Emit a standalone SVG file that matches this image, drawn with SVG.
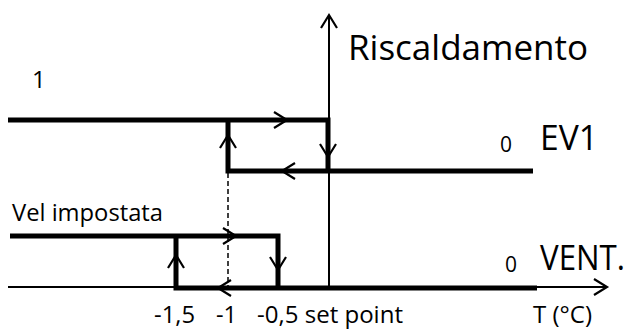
<svg xmlns="http://www.w3.org/2000/svg" width="634" height="331" viewBox="0 0 634 331">
<style>
.thin{stroke:#000;stroke-width:2;fill:none}
.thick{stroke:#000;stroke-width:5;fill:none;stroke-linejoin:miter}
.chev{stroke:#000;stroke-width:2.2;fill:none}
.dash{stroke:#000;stroke-width:1.5;fill:none;stroke-dasharray:5 3}
text{font-family:"Open Sans","Liberation Sans",sans-serif;fill:#000}
</style>
<defs>
<path id="chev" class="chev" d="M-13,-8 L0,0 L-13,8"/>
</defs>
<rect width="634" height="331" fill="#fff"/>
<g id="axes">
<path class="thin" d="M329,15 V288"/>
<path class="thin" d="M8,287 H607"/>
<use href="#chev" transform="translate(329,15) rotate(-90)"/>
<use href="#chev" transform="translate(607,287)"/>
</g>
<g id="connectors">
<g id="ev1-curve">
<path class="thick" d="M8,120 H328 V171"/>
<path class="thick" d="M228,120 V171 H533"/>
<use href="#chev" transform="translate(287,120)"/>
<use href="#chev" transform="translate(228,135) rotate(-90)"/>
<use href="#chev" transform="translate(328,157) rotate(90)"/>
<use href="#chev" transform="translate(282,171) rotate(180)"/>
</g>
<path class="dash" d="M228,173 V287"/>
<g id="vent-curve">
<path class="thick" d="M10,236 H278 V288"/>
<path class="thick" d="M176,236 V288 H537"/>
<use href="#chev" transform="translate(236,236)"/>
<use href="#chev" transform="translate(176,255) rotate(-90)"/>
<use href="#chev" transform="translate(278,270) rotate(90)"/>
<use href="#chev" transform="translate(218,288) rotate(180)"/>
</g>
</g>
<g id="labels">
<text x="348" y="60" font-size="35" textLength="240" lengthAdjust="spacingAndGlyphs">Riscaldamento</text>
<text x="32" y="88" font-size="24">1</text>
<text x="500" y="152" font-size="21">0</text>
<text x="540" y="150" font-size="35" textLength="58" lengthAdjust="spacingAndGlyphs">EV1</text>
<text x="12" y="221" font-size="23" textLength="151" lengthAdjust="spacingAndGlyphs">Vel impostata</text>
<text x="505" y="272" font-size="21">0</text>
<text x="540" y="270" font-size="35" textLength="85" lengthAdjust="spacingAndGlyphs">VENT.</text>
<text x="154" y="323" font-size="23" textLength="41" lengthAdjust="spacingAndGlyphs">-1,5</text>
<text x="216" y="323" font-size="23" textLength="21" lengthAdjust="spacingAndGlyphs">-1</text>
<text x="257" y="323" font-size="23" textLength="146" lengthAdjust="spacingAndGlyphs">-0,5 set point</text>
<text x="533" y="323" font-size="23" textLength="59" lengthAdjust="spacingAndGlyphs">T (°C)</text>
</g>
</svg>
